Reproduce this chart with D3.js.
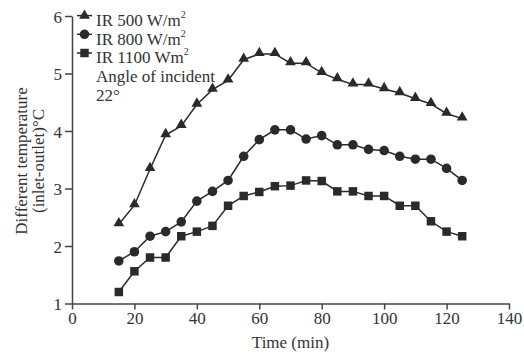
<!DOCTYPE html>
<html><head><meta charset="utf-8">
<script src="https://cdn.jsdelivr.net/npm/d3@7"></script>
<style>body{margin:0;background:#fff}svg{display:block}text{font-family:"Liberation Serif","Times New Roman",serif;fill:#333}</style>
</head><body><svg id="c" width="524" height="358"></svg>
<script>
const times = [15,20,25,30,35,40,45,50,55,60,65,70,75,80,85,90,95,100,105,110,115,120,125];
const ir500 = [2.38,2.71,3.34,3.93,4.09,4.46,4.72,4.88,5.24,5.34,5.34,5.18,5.18,5.01,4.90,4.81,4.81,4.73,4.66,4.56,4.47,4.30,4.22];
const ir800 = [1.74,1.90,2.17,2.25,2.42,2.78,2.95,3.14,3.56,3.85,4.02,4.02,3.86,3.92,3.76,3.76,3.68,3.66,3.56,3.51,3.51,3.35,3.14];
const ir1100 = [1.20,1.56,1.80,1.80,2.17,2.25,2.35,2.70,2.87,2.94,3.04,3.05,3.14,3.13,2.95,2.95,2.87,2.87,2.70,2.70,2.43,2.25,2.17];
const xTicks = [0,20,40,60,80,100,120,140];
const yTicks = [1,2,3,4,5,6];
const seriesNames = ["IR 500 W/m","IR 800 W/m","IR 1100 Wm"];
const seriesShapes = ["triangle","circle","square"];
const noteLines = ["Angle of incident","22°"];

const svg = d3.select("#c");
const x = d3.scaleLinear().domain([0,140]).range([72,509]);
const y = d3.scaleLinear().domain([1,6]).range([303.5,16]);
const ink = "#2a2a2a";

const xa = svg.append("g").attr("transform",`translate(0,${y(1)})`)
  .call(d3.axisBottom(x).tickValues(xTicks).tickFormat(d3.format("d")).tickSize(6).tickPadding(2).tickSizeOuter(0));
const ya = svg.append("g").attr("transform",`translate(${x(0)},0)`)
  .call(d3.axisLeft(y).tickValues(yTicks).tickFormat(d3.format("d")).tickSize(7).tickPadding(3).tickSizeOuter(0));
[xa,ya].forEach(a=>{
  a.selectAll("path,line").attr("stroke","#444").attr("stroke-width",1.5);
  a.selectAll("text").attr("font-size",17).attr("fill","#333").attr("font-family",'"Liberation Serif",serif');
});
ya.selectAll("text").attr("dy","0.36em");

svg.append("text").attr("x",(x(0)+x(140))/2).attr("y",348).attr("text-anchor","middle").attr("font-size",17).text("Time (min)");
const yl = svg.append("text").attr("transform","translate(27,161) rotate(-90)").attr("text-anchor","middle").attr("font-size",17);
yl.append("tspan").attr("x",0).attr("dy",0).text("Different temperature");
yl.append("tspan").attr("x",0).attr("dy",17).text("(inlet-outlet)°C");

function sym(shape){
  if(shape==="triangle") return d3.symbol().type(d3.symbolTriangle).size(50)();
  if(shape==="circle") return d3.symbol().type(d3.symbolCircle).size(72)();
  return d3.symbol().type(d3.symbolSquare).size(72)();
}
const data = [ir500,ir800,ir1100];
const line = d3.line().x((d,i)=>x(times[i])).y(d=>y(d));
data.forEach((vals,k)=>{
  svg.append("path").attr("d",line(vals)).attr("fill","none").attr("stroke",ink).attr("stroke-width",1.5);
  svg.selectAll(null).data(vals).enter().append("path")
    .attr("d",sym(seriesShapes[k]))
    .attr("transform",(d,i)=>`translate(${x(times[i])},${y(d)+(seriesShapes[k]==="triangle"?-1:0)})`)
    .attr("fill",ink);
});

// legend
const rowY = [15.6,34.3,53];
seriesNames.forEach((n,k)=>{
  const g = svg.append("g");
  g.append("line").attr("x1",77).attr("x2",92).attr("y1",rowY[k]).attr("y2",rowY[k]).attr("stroke",ink).attr("stroke-width",1.5);
  g.append("path").attr("d",sym(seriesShapes[k])).attr("transform",`translate(84.5,${rowY[k]})`).attr("fill",ink);
  const t = g.append("text").attr("x",96).attr("y",rowY[k]+10.2).attr("font-size",17);
  t.append("tspan").text(n);
  t.append("tspan").attr("font-size",10).attr("dy",-8).text("2");
});
noteLines.forEach((s,i)=>{
  svg.append("text").attr("x",96).attr("y",82+i*18.5).attr("font-size",17).text(s);
});
</script></body></html>
